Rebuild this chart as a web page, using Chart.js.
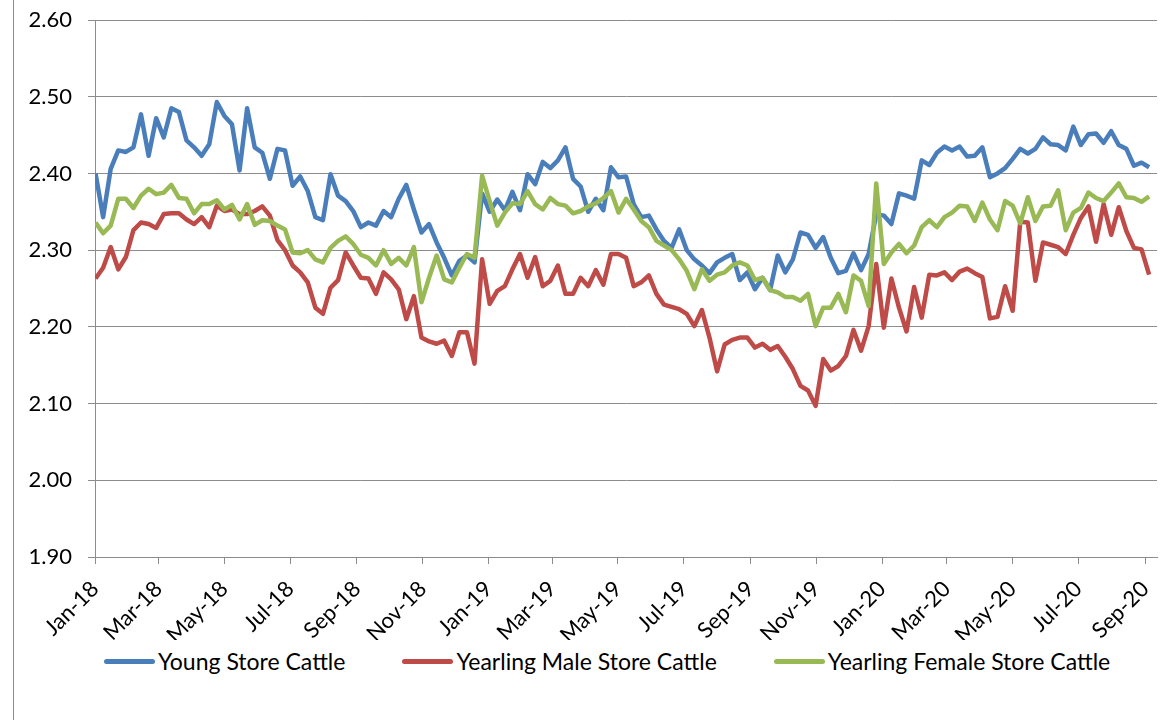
<!DOCTYPE html>
<html lang="en">
<head>
    <meta charset="UTF-8">
    <title>Store Cattle Prices</title>
    <style>
        body { margin: 0; background: #fff; font-family: Lato, "Liberation Sans", sans-serif; }
        #frame { position: relative; width: 1176px; height: 720px; overflow: hidden; }
        #frame .edge { position: absolute; left: 13px; top: 0; width: 1px; height: 720px; background: #8c8c8c; }
        #chart { position: absolute; left: 0; top: 0; }
        #legend { position: absolute; left: 104px; top: 647px; display: flex; align-items: center; font-size: 23px; color: #000; white-space: nowrap; }
        #legend .item { display: flex; align-items: center; margin-right: 57px; }
        #legend .swatch { display: inline-block; width: 51px; height: 5px; border-radius: 3px; margin-right: 3px; }
    </style>
    <script src="https://cdn.jsdelivr.net/npm/chart.js@4.4.6/dist/chart.umd.min.js"></script>
</head>
<body>
    <div id="frame">
        <div class="edge"></div>
        <canvas id="chart" width="1176" height="640"></canvas>
        <div id="legend"></div>
    </div>

    <script>
        // x axis: days since 1 Jan 2018, ticks on the first of every second month
        const tickDays = [0, 59, 120, 181, 243, 304, 365, 424, 485, 546, 608, 669, 730, 790, 851, 912, 974];
        const tickLabels = ['Jan-18', 'Mar-18', 'May-18', 'Jul-18', 'Sep-18', 'Nov-18',
                            'Jan-19', 'Mar-19', 'May-19', 'Jul-19', 'Sep-19', 'Nov-19',
                            'Jan-20', 'Mar-20', 'May-20', 'Jul-20', 'Sep-20'];

        // weekly samples
        const firstSampleDay = 0.5;
        const sampleStep = 7.03;

        const seriesNames = ['Young Store Cattle', 'Yearling Male Store Cattle', 'Yearling Female Store Cattle'];
        const seriesColors = ['#4A7EBB', '#BE4B48', '#98B954'];

        const youngStore = [
            2.400, 2.343, 2.406, 2.430, 2.428, 2.434, 2.477, 2.423, 2.472, 2.447,
            2.485, 2.480, 2.443, 2.434, 2.423, 2.438, 2.493, 2.475, 2.464, 2.404,
            2.485, 2.434, 2.427, 2.393, 2.432, 2.430, 2.384, 2.396, 2.377, 2.343,
            2.339, 2.399, 2.371, 2.364, 2.351, 2.330, 2.336, 2.332, 2.351, 2.343,
            2.367, 2.385, 2.353, 2.323, 2.334, 2.310, 2.290, 2.267, 2.286, 2.293,
            2.284, 2.374, 2.350, 2.366, 2.352, 2.376, 2.352, 2.399, 2.386, 2.415,
            2.407, 2.417, 2.434, 2.393, 2.383, 2.350, 2.367, 2.352, 2.408, 2.395,
            2.396, 2.360, 2.343, 2.345, 2.327, 2.312, 2.303, 2.327, 2.300, 2.288,
            2.280, 2.270, 2.284, 2.290, 2.295, 2.261, 2.271, 2.249, 2.264, 2.248,
            2.293, 2.271, 2.288, 2.323, 2.320, 2.303, 2.317, 2.290, 2.270, 2.273,
            2.296, 2.274, 2.295, 2.347, 2.345, 2.334, 2.374, 2.371, 2.367, 2.417,
            2.411, 2.427, 2.435, 2.430, 2.435, 2.422, 2.423, 2.434, 2.395, 2.400,
            2.407, 2.419, 2.432, 2.426, 2.432, 2.447, 2.438, 2.437, 2.430, 2.461,
            2.437, 2.451, 2.452, 2.440, 2.455, 2.437, 2.432, 2.410, 2.414, 2.408
        ];

        const yearlingMale = [
            2.263, 2.277, 2.304, 2.275, 2.291, 2.326, 2.336, 2.334, 2.329, 2.347,
            2.348, 2.348, 2.340, 2.334, 2.343, 2.330, 2.358, 2.351, 2.353, 2.347,
            2.347, 2.351, 2.357, 2.345, 2.313, 2.300, 2.280, 2.271, 2.258, 2.225,
            2.217, 2.251, 2.261, 2.297, 2.280, 2.264, 2.263, 2.243, 2.271, 2.262,
            2.249, 2.210, 2.240, 2.186, 2.181, 2.178, 2.182, 2.162, 2.193, 2.193,
            2.152, 2.288, 2.230, 2.247, 2.253, 2.275, 2.295, 2.264, 2.291, 2.253,
            2.260, 2.280, 2.243, 2.243, 2.264, 2.253, 2.274, 2.255, 2.295, 2.295,
            2.290, 2.253, 2.258, 2.267, 2.243, 2.229, 2.226, 2.223, 2.217, 2.201,
            2.222, 2.186, 2.142, 2.177, 2.183, 2.186, 2.186, 2.173, 2.178, 2.170,
            2.175, 2.161, 2.145, 2.123, 2.117, 2.097, 2.158, 2.143, 2.149, 2.162,
            2.196, 2.169, 2.201, 2.282, 2.199, 2.263, 2.225, 2.194, 2.252, 2.212,
            2.268, 2.267, 2.271, 2.261, 2.272, 2.276, 2.270, 2.265, 2.211, 2.213,
            2.253, 2.221, 2.337, 2.336, 2.260, 2.310, 2.307, 2.304, 2.295, 2.320,
            2.342, 2.357, 2.311, 2.360, 2.320, 2.356, 2.325, 2.303, 2.301, 2.268
        ];

        const yearlingFemale = [
            2.336, 2.322, 2.332, 2.367, 2.367, 2.355, 2.371, 2.380, 2.373, 2.375,
            2.385, 2.368, 2.367, 2.348, 2.360, 2.360, 2.365, 2.353, 2.359, 2.340,
            2.360, 2.333, 2.339, 2.338, 2.332, 2.327, 2.297, 2.296, 2.300, 2.288,
            2.284, 2.303, 2.312, 2.318, 2.308, 2.294, 2.290, 2.280, 2.300, 2.282,
            2.290, 2.280, 2.304, 2.232, 2.264, 2.293, 2.262, 2.258, 2.277, 2.295,
            2.290, 2.397, 2.364, 2.332, 2.349, 2.361, 2.360, 2.377, 2.360, 2.353,
            2.368, 2.360, 2.358, 2.348, 2.351, 2.357, 2.361, 2.368, 2.377, 2.349,
            2.367, 2.353, 2.338, 2.330, 2.312, 2.306, 2.300, 2.288, 2.273, 2.249,
            2.275, 2.260, 2.268, 2.271, 2.280, 2.284, 2.280, 2.261, 2.264, 2.248,
            2.245, 2.239, 2.239, 2.234, 2.243, 2.201, 2.225, 2.225, 2.243, 2.219,
            2.267, 2.260, 2.227, 2.387, 2.282, 2.297, 2.308, 2.296, 2.306, 2.330,
            2.339, 2.330, 2.343, 2.349, 2.358, 2.357, 2.338, 2.362, 2.340, 2.326,
            2.364, 2.358, 2.335, 2.369, 2.338, 2.357, 2.358, 2.378, 2.326, 2.349,
            2.355, 2.375, 2.368, 2.364, 2.375, 2.387, 2.369, 2.368, 2.363, 2.370
        ];

        function toPoints(values) {
            return values.map((v, i) => ({ x: firstSampleDay + i * sampleStep, y: v }));
        }

        const axisGrey = '#8c8c8c';
        Chart.defaults.font.family = 'Lato, "Liberation Sans", sans-serif';
        Chart.defaults.font.size = 22;
        Chart.defaults.color = '#000';

        const datasets = [youngStore, yearlingMale, yearlingFemale].map((values, i) => ({
            label: seriesNames[i],
            data: toPoints(values),
            borderColor: seriesColors[i],
            backgroundColor: seriesColors[i],
            borderWidth: 4.5,
            borderJoinStyle: 'round',
            pointRadius: 0,
            tension: 0,
            order: 2 - i   // later series drawn on top, like the original
        }));

        const chart = new Chart(document.getElementById('chart').getContext('2d'), {
            type: 'line',
            data: { datasets: datasets },
            options: {
                responsive: false,
                animation: false,
                layout: { padding: { top: 20, right: 19, bottom: 0, left: 0 } },
                plugins: {
                    legend: { display: false },
                    tooltip: { enabled: false }
                },
                scales: {
                    x: {
                        type: 'linear',
                        min: 0,
                        max: 985,
                        afterBuildTicks: scale => {
                            scale.ticks = tickDays.map(d => ({ value: d }));
                        },
                        afterFit: scale => {
                            scale.height = 83;
                            scale.paddingLeft = 0;
                            scale.paddingRight = 0;
                        },
                        ticks: {
                            autoSkip: false,
                            minRotation: 45,
                            maxRotation: 45,
                            padding: 12,
                            callback: (value, index) => tickLabels[index]
                        },
                        grid: {
                            drawOnChartArea: false,
                            drawTicks: true,
                            tickLength: 7,
                            color: axisGrey
                        },
                        border: { color: axisGrey, width: 1 }
                    },
                    y: {
                        min: 1.9,
                        max: 2.6,
                        afterFit: scale => {
                            scale.width = 95;
                            scale.paddingTop = 0;
                            scale.paddingBottom = 0;
                        },
                        ticks: {
                            stepSize: 0.1,
                            padding: 16,
                            callback: value => value.toFixed(2)
                        },
                        grid: {
                            color: axisGrey,
                            tickLength: 7
                        },
                        border: { color: axisGrey, width: 1 }
                    }
                }
            }
        });

        // legend below the chart, built from the datasets
        const legend = document.getElementById('legend');
        chart.data.datasets.forEach(ds => {
            const item = document.createElement('div');
            item.className = 'item';
            item.innerHTML = '<span class="swatch" style="background:' + ds.borderColor + '"></span><span>' + ds.label + '</span>';
            legend.appendChild(item);
        });
    </script>
</body>
</html>
